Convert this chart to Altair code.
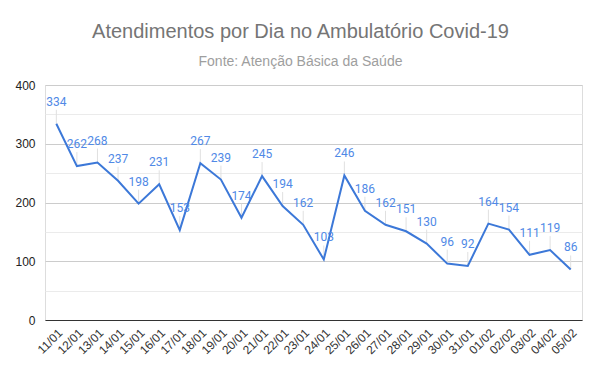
import altair as alt
import pandas as pd

dates = ["11/01", "12/01", "13/01", "14/01", "15/01", "16/01", "17/01", "18/01", "19/01",
         "20/01", "21/01", "22/01", "23/01", "24/01", "25/01", "26/01", "27/01", "28/01",
         "29/01", "30/01", "31/01", "01/02", "02/02", "03/02", "04/02", "05/02"]
values = [334, 262, 268, 237, 198, 231, 153, 267, 239, 174, 245, 194, 162, 103, 246,
          186, 162, 151, 130, 96, 92, 164, 154, 111, 119, 86]
y_ticks = [0, 50, 100, 150, 200, 250, 300, 350, 400]

df = pd.DataFrame({"dia": dates, "atend": values})

x = alt.X("dia:N", sort=dates, title=None,
          scale=alt.Scale(type="point", padding=0.55),
          axis=alt.Axis(labelAngle=-45, labelFont="Liberation Sans", labelFontSize=12,
                        labelColor="#333333", ticks=False, domainColor="#333333",
                        domainWidth=1, labelPadding=7, grid=False))
y = alt.Y("atend:Q", title=None,
          scale=alt.Scale(domain=[0, 400], nice=False),
          axis=alt.Axis(values=y_ticks, ticks=False, domain=False,
                        labelExpr="datum.value % 100 === 0 ? datum.label : ''",
                        labelFont="Liberation Sans", labelFontSize=12, labelColor="#222222",
                        labelPadding=10,
                        gridColor={"condition": {"test": "datum.value % 100 === 0", "value": "#cccccc"},
                                   "value": "#ebebeb"}))

base = alt.Chart(df)

stems = base.mark_rule(color="#e0e0e0", strokeWidth=1, y2Offset=-14).encode(
    x=x, y=y, y2="atend:Q")

line = base.mark_line(color="#3c78d8", strokeWidth=2).encode(x=x, y=y)

labels = base.mark_text(dy=-22, font="Roboto", fontSize=12, color="#5089e6",
                        baseline="middle").encode(x=x, y=y, text="atend:Q")

chart = alt.layer(stems, line, labels).properties(
    width=537, height=235,
    autosize=alt.AutoSizeParams(type="none"),
    padding={"left": 37, "top": 77, "right": 10, "bottom": 40},
    title=alt.TitleParams(
        "Atendimentos por Dia no Ambulatório Covid-19",
        subtitle="Fonte: Atenção Básica da Saúde",
        anchor="middle", dx=-13, offset=10,
        font="Liberation Sans", fontSize=20, fontWeight="normal", color="#757575",
        subtitleFont="Liberation Sans", subtitleFontSize=14, subtitleColor="#9e9e9e",
        subtitlePadding=13)
).configure_view(stroke=None).configure(background="white")

chart.save("out.html", embed_options={"renderer": "svg", "actions": False})
